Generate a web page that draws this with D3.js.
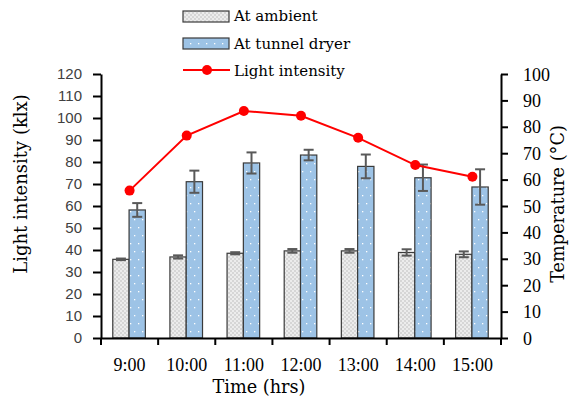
<!DOCTYPE html>
<html>
<head>
<meta charset="utf-8" />
<title>Light intensity and temperature</title>
<script src="https://cdnjs.cloudflare.com/ajax/libs/d3/7.8.5/d3.min.js"></script>
<style>
	body { margin: 0; background: #ffffff; }
	.serif { font-family: "DejaVu Serif", serif; fill: #000; }
	.tick-serif text { font-family: "Liberation Serif", serif; font-size: 18px; fill: #000; }
	.tick-sans text { font-family: "Liberation Sans", Arial, sans-serif; font-size: 15px; fill: #404040; }
</style>
</head>
<body>
<svg id="chart" width="569" height="403"></svg>
<script>
// data
const times = ["9:00", "10:00", "11:00", "12:00", "13:00", "14:00", "15:00"];
const ambient = [29.8, 30.7, 32.1, 33.0, 33.0, 32.4, 31.7];        // °C
const ambientErr = [0.3, 0.6, 0.4, 0.7, 0.7, 1.2, 1.1];
const tunnel = [48.5, 59.2, 66.3, 69.3, 65.0, 60.7, 57.2];         // °C
const tunnelErr = [2.6, 4.2, 4.0, 2.0, 4.5, 5.0, 6.7];
const light = [67.0, 92.0, 103.2, 101.0, 91.0, 78.6, 73.3];        // klx
const lightTicks = [0, 10, 20, 30, 40, 50, 60, 70, 80, 90, 100, 110, 120];
const tempTicks = [0, 10, 20, 30, 40, 50, 60, 70, 80, 90, 100];
const legendLabels = ["At ambient", "At tunnel dryer", "Light intensity"];

const svg = d3.select("#chart");
const plotL = 101, plotR = 501, plotT = 74, plotB = 338;

// patterns for the two bar fills
let defs = svg.append("defs");
let pa = defs.append("pattern").attr("id", "patAmb")
	.attr("patternUnits", "userSpaceOnUse").attr("width", 4).attr("height", 4);
pa.append("rect").attr("width", 4).attr("height", 4).attr("fill", "#ececec");
pa.append("rect").attr("width", 2).attr("height", 2).attr("fill", "#d6d6d6");
pa.append("rect").attr("x", 2).attr("y", 2).attr("width", 2).attr("height", 2).attr("fill", "#d6d6d6");

let pt = defs.append("pattern").attr("id", "patTun")
	.attr("patternUnits", "userSpaceOnUse").attr("width", 8).attr("height", 16);
pt.append("rect").attr("width", 8).attr("height", 16).attr("fill", "#9dc3e6");
pt.append("rect").attr("x", 2).attr("y", 3).attr("width", 1.3).attr("height", 1.3).attr("fill", "#ffffff");
pt.append("rect").attr("x", 6).attr("y", 11).attr("width", 1.3).attr("height", 1.3).attr("fill", "#ffffff");

// scales
let x = d3.scaleBand().domain(times).range([plotL, plotR]).padding(0);
let yL = d3.scaleLinear().domain([0, 120]).range([plotB, plotT]);
let yR = d3.scaleLinear().domain([0, 100]).range([plotB, plotT]);
let bw = 16.3;

// bars
let g = svg.append("g");
g.selectAll("rect.amb").data(times).enter().append("rect")
	.attr("class", "amb")
	.attr("x", (d) => x(d) + x.bandwidth() / 2 - bw - 0.5)
	.attr("y", (d, i) => yR(ambient[i]))
	.attr("width", bw)
	.attr("height", (d, i) => yR(0) - yR(ambient[i]))
	.attr("fill", "url(#patAmb)")
	.attr("stroke", "#3a3a3a")
	.attr("stroke-width", 1.2);
g.selectAll("rect.tun").data(times).enter().append("rect")
	.attr("class", "tun")
	.attr("x", (d) => x(d) + x.bandwidth() / 2 - 0.5)
	.attr("y", (d, i) => yR(tunnel[i]))
	.attr("width", bw)
	.attr("height", (d, i) => yR(0) - yR(tunnel[i]))
	.attr("fill", "url(#patTun)")
	.attr("stroke", "#3a3a3a")
	.attr("stroke-width", 1.2);

// error bars
function errorBars(vals, errs, dx) {
	let eb = svg.append("g").attr("stroke", "#595959").attr("stroke-width", 2);
	times.forEach(function(t, i) {
		let cx = x(t) + x.bandwidth() / 2 + dx;
		let y1 = yR(vals[i] + errs[i]), y2 = yR(vals[i] - errs[i]);
		eb.append("line").attr("x1", cx).attr("x2", cx).attr("y1", y1).attr("y2", y2);
		eb.append("line").attr("x1", cx - 5).attr("x2", cx + 5).attr("y1", y1).attr("y2", y1);
		eb.append("line").attr("x1", cx - 5).attr("x2", cx + 5).attr("y1", y2).attr("y2", y2);
	});
}
errorBars(ambient, ambientErr, -bw / 2 - 0.5);
errorBars(tunnel, tunnelErr, bw / 2 - 0.5);

// axes
let axL = svg.append("g").attr("class", "tick-sans")
	.attr("transform", `translate(${plotL},0)`)
	.call(d3.axisLeft(yL).tickValues(lightTicks).tickSize(8).tickSizeOuter(0).tickPadding(11));
let axR = svg.append("g").attr("class", "tick-serif")
	.attr("transform", `translate(${plotR},0)`)
	.call(d3.axisRight(yR).tickValues(tempTicks).tickSize(7).tickSizeOuter(0).tickPadding(15));
let axB = svg.append("g").attr("class", "tick-serif")
	.attr("transform", `translate(0,${plotB})`)
	.call(d3.axisBottom(x).tickSize(0).tickSizeOuter(0).tickPadding(20));
axB.selectAll(".tick text").attr("font-size", "17px");
// boundary ticks between categories
axB.selectAll("line.bt").data(d3.range(times.length + 1)).enter().append("line")
	.attr("class", "bt")
	.attr("x1", (i) => plotL + i * x.step()).attr("x2", (i) => plotL + i * x.step())
	.attr("y1", 0).attr("y2", 7)
	.attr("stroke", "#000").attr("stroke-width", 2);
[axL, axR, axB].forEach(function(a) {
	a.select(".domain").attr("stroke", "#000").attr("stroke-width", 2);
	a.selectAll(".tick line").attr("stroke", "#000").attr("stroke-width", 2);
});
axR.selectAll(".tick text").attr("dy", "0.34em");

// light intensity line
svg.append("path")
	.datum(light)
	.attr("fill", "none")
	.attr("stroke", "#ff0000")
	.attr("stroke-width", 2)
	.attr("d", d3.line().x((d, i) => x(times[i]) + x.bandwidth() / 2).y((d) => yL(d)));
svg.selectAll("circle.pt").data(light).enter().append("circle")
	.attr("class", "pt")
	.attr("cx", (d, i) => x(times[i]) + x.bandwidth() / 2)
	.attr("cy", (d) => yL(d))
	.attr("r", 5)
	.attr("fill", "#ff0000");

// axis titles
svg.append("text").attr("class", "serif")
	.attr("transform", "translate(27,184) rotate(-90)")
	.attr("text-anchor", "middle").attr("font-size", "18px")
	.text("Light intensity (klx)");
svg.append("text").attr("class", "serif")
	.attr("transform", "translate(564,204) rotate(-90)")
	.attr("text-anchor", "middle").attr("font-size", "17.7px")
	.text("Temperature (°C)");
svg.append("text").attr("class", "serif")
	.attr("x", 259).attr("y", 393)
	.attr("text-anchor", "middle").attr("font-size", "17.7px")
	.text("Time (hrs)");

// legend
let lg = svg.append("g");
lg.append("rect").attr("x", 183).attr("y", 11).attr("width", 46).attr("height", 11)
	.attr("fill", "url(#patAmb)").attr("stroke", "#3a3a3a").attr("stroke-width", 1.2);
lg.append("rect").attr("x", 183).attr("y", 38).attr("width", 46).attr("height", 11)
	.attr("fill", "url(#patTun)").attr("stroke", "#3a3a3a").attr("stroke-width", 1.2);
lg.append("line").attr("x1", 183).attr("x2", 230).attr("y1", 70).attr("y2", 70)
	.attr("stroke", "#ff0000").attr("stroke-width", 2);
lg.append("circle").attr("cx", 207).attr("cy", 70).attr("r", 5).attr("fill", "#ff0000");
lg.selectAll("text").data(legendLabels).enter().append("text")
	.attr("class", "serif")
	.attr("x", 234)
	.attr("y", (d, i) => 21 + i * 27.5)
	.attr("font-size", "15px")
	.text((d) => d);
</script>
</body>
</html>
